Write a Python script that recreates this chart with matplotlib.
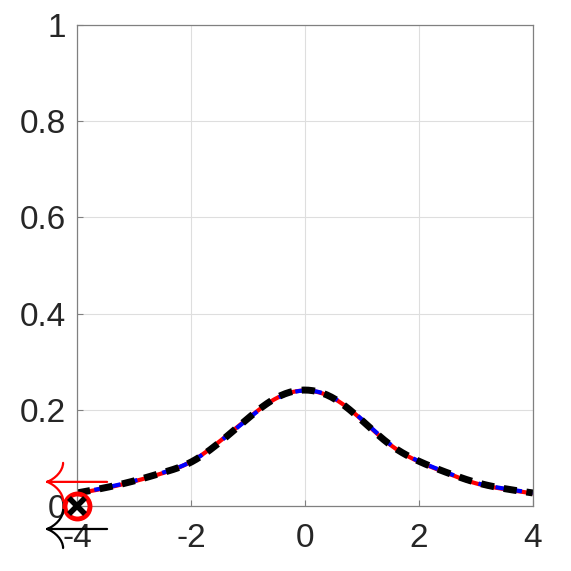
import matplotlib
matplotlib.use('Agg')
import matplotlib.pyplot as plt
import matplotlib.transforms as mtransforms
from matplotlib.path import Path
from matplotlib.patches import PathPatch
import numpy as np

# curve samples
x = [-4, -3.5, -3, -2.5, -2, -1.5, -1, -0.5, 0, 0.5, 1, 1.5, 2, 2.5, 3, 3.5, 4]
y_red = [0.026, 0.037, 0.051, 0.068, 0.092, 0.134, 0.182, 0.224, 0.240,
         0.224, 0.179, 0.127, 0.092, 0.068, 0.047, 0.035, 0.026]
y_blue = [0.027, 0.038, 0.052, 0.069, 0.092, 0.133, 0.181, 0.223, 0.240,
          0.225, 0.180, 0.128, 0.093, 0.069, 0.048, 0.036, 0.027]
y_black = [0.027, 0.038, 0.052, 0.069, 0.091, 0.132, 0.182, 0.225, 0.241,
           0.224, 0.178, 0.127, 0.093, 0.069, 0.049, 0.036, 0.027]
xticks = [-4, -2, 0, 2, 4]
yticks = [0, 0.2, 0.4, 0.6, 0.8, 1]
yticklabels = ['0', '0.2', '0.4', '0.6', '0.8', '1']
# arrow anchors (data coords) and colours
arrows = [(-4, 0.05, 'red'), (-4, -0.048, 'black')]

plt.rcParams['font.family'] = ['Liberation Sans', 'DejaVu Sans']

fig = plt.figure(figsize=(5.71, 5.71), dpi=100)
ax = fig.add_axes([0.135, 0.114, 0.798, 0.842])

xs = np.linspace(-4, 4, 200)

# plain numpy natural cubic spline through the read points
def f(yy):
    xv = np.array(x, float); yv = np.array(yy, float)
    n = len(xv); h = np.diff(xv)
    A = np.zeros((n, n)); b = np.zeros(n)
    A[0, 0] = A[-1, -1] = 1
    for i in range(1, n - 1):
        A[i, i - 1] = h[i - 1]; A[i, i] = 2 * (h[i - 1] + h[i]); A[i, i + 1] = h[i]
        b[i] = 3 * ((yv[i + 1] - yv[i]) / h[i] - (yv[i] - yv[i - 1]) / h[i - 1])
    c = np.linalg.solve(A, b)
    out = np.empty_like(xs)
    for k, t in enumerate(xs):
        i = min(np.searchsorted(xv, t, side='right') - 1, n - 2)
        dx = t - xv[i]
        bb = (yv[i + 1] - yv[i]) / h[i] - h[i] * (2 * c[i] + c[i + 1]) / 3
        d = (c[i + 1] - c[i]) / (3 * h[i])
        out[k] = yv[i] + bb * dx + c[i] * dx ** 2 + d * dx ** 3
    return out

ax.plot(xs, f(y_red), color='red', lw=3, solid_capstyle='butt')
ax.plot(xs, f(y_blue), color='blue', lw=3, ls=(0, (2.2, 2.0)))
ax.plot(xs, f(y_black), color='black', lw=5, ls=(0, (1.9, 1.4)))

ax.plot([-4], [0], 'o', ms=18, mfc='none', mec='red', mew=3.5, clip_on=False, zorder=5)
ax.plot([-4], [0], 'x', ms=11, mec='black', mew=4, clip_on=False, zorder=6)

# tex-style left arrows with curved barbs, shape in pixel offsets
arrow_verts = [(30, 0), (-30, 0),
               (-14, 19), (-14, 11), (-22, 3), (-30, 0),
               (-14, -19), (-14, -11), (-22, -3), (-30, 0)]
arrow_codes = [Path.MOVETO, Path.LINETO,
               Path.MOVETO, Path.CURVE4, Path.CURVE4, Path.CURVE4,
               Path.MOVETO, Path.CURVE4, Path.CURVE4, Path.CURVE4]
arrow_path = Path(arrow_verts, arrow_codes)
for ax_, ay_, col in arrows:
    tr = mtransforms.Affine2D() + mtransforms.ScaledTranslation(ax_, ay_, ax.transData)
    ax.add_patch(PathPatch(arrow_path, transform=tr, fc='none', ec=col, lw=1.6,
                           clip_on=False, zorder=7, capstyle='round'))

ax.set_xlim(-4, 4)
ax.set_ylim(0, 1)
ax.set_xticks(xticks)
ax.set_xticklabels([str(t) for t in xticks])
ax.set_yticks(yticks)
ax.set_yticklabels(yticklabels)
ax.grid(True, color='#dedede', lw=0.8)
ax.set_axisbelow(True)
ax.tick_params(direction='in', length=4, width=0.8, colors='#808080',
               labelcolor='#262626', labelsize=24, pad=8)
ax.tick_params(axis='x', pad=12)
for s in ax.spines.values():
    s.set_color('#808080')
    s.set_linewidth(0.9)

fig.savefig('out.png', dpi=100)
